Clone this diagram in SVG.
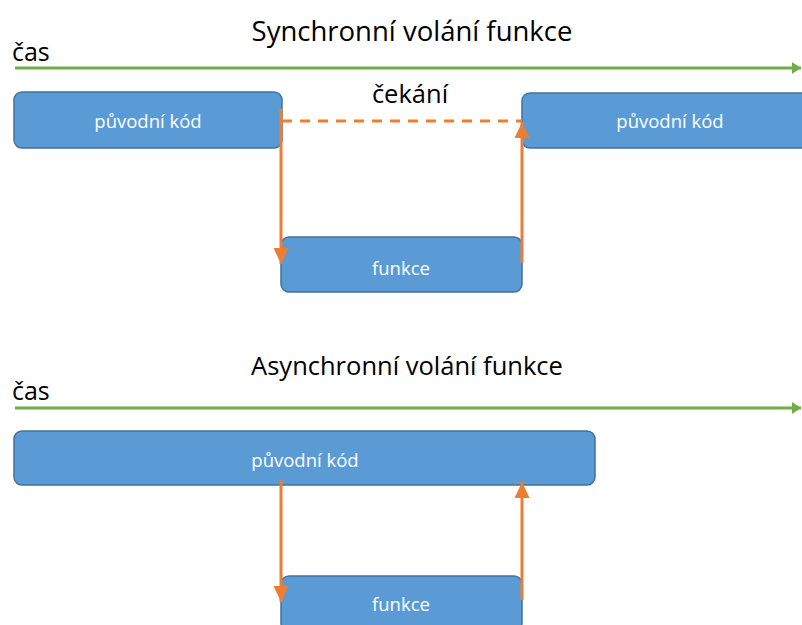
<svg xmlns="http://www.w3.org/2000/svg" width="802" height="625" viewBox="0 0 802 625">
<style>
.title{font-family:"Open Sans","Liberation Sans",sans-serif;font-size:27.5px;fill:#000;text-anchor:middle}
.cas{font-family:"Open Sans","Liberation Sans",sans-serif;font-size:25px;fill:#000}
.box{fill:#5B9BD5;stroke:#41719C;stroke-width:1.5}
.lbl{font-family:"Open Sans","Liberation Sans",sans-serif;font-size:18.5px;fill:#fff;text-anchor:middle}
.time{stroke:#70AD47;stroke-width:3;fill:none}
.call{stroke:#ED7D31;stroke-width:3;fill:none}
.wait{stroke:#ED7D31;stroke-width:3;fill:none;stroke-dasharray:10 8}
</style>
<defs>
<marker id="ga" markerUnits="userSpaceOnUse" markerWidth="10" markerHeight="12" refX="9" refY="6" orient="auto"><path d="M0,0 L9,6 L0,12 z" fill="#70AD47"/></marker>
<marker id="oa" markerUnits="userSpaceOnUse" markerWidth="17" markerHeight="16" refX="16" refY="7.5" orient="auto"><path d="M0,0 L16,7.5 L0,15 z" fill="#ED7D31"/></marker>
</defs>

<text class="title" x="412" y="41">Synchronní volání funkce</text>
<text class="cas" x="12" y="61">čas</text>
<text class="title" x="410" y="103" style="font-size:25.5px">čekání</text>
<text class="title" x="407" y="375" style="font-size:25.5px">Asynchronní volání funkce</text>
<text class="cas" x="12" y="400">čas</text>

<g id="sync-code1"><rect class="box" x="14" y="92" width="268" height="56" rx="8"/><text class="lbl" x="148" y="128">původní kód</text></g>
<g id="sync-func"><rect class="box" x="281" y="237" width="241" height="55" rx="8"/><text class="lbl" x="401" y="275">funkce</text></g>
<g id="sync-code2"><rect class="box" x="522" y="93" width="300" height="55" rx="8"/><text class="lbl" x="670" y="128">původní kód</text></g>
<g id="async-code"><rect class="box" x="14" y="431" width="581" height="54" rx="8"/><text class="lbl" x="305" y="467">původní kód</text></g>
<g id="async-func"><rect class="box" x="281" y="576" width="241" height="55" rx="8"/><text class="lbl" x="401" y="611">funkce</text></g>

<g id="connectors">
<line class="time" x1="15" y1="68" x2="801" y2="68" marker-end="url(#ga)"/>
<line class="time" x1="15" y1="408" x2="801" y2="408" marker-end="url(#ga)"/>
<line class="wait" x1="282" y1="121" x2="522" y2="121"/>
<line class="call" x1="281" y1="109" x2="281" y2="264" marker-end="url(#oa)"/>
<line class="call" x1="522" y1="263" x2="522" y2="122" marker-end="url(#oa)"/>
<line class="call" x1="281" y1="480" x2="281" y2="602" marker-end="url(#oa)"/>
<line class="call" x1="522" y1="600" x2="522" y2="482" marker-end="url(#oa)"/>
</g>
</svg>
